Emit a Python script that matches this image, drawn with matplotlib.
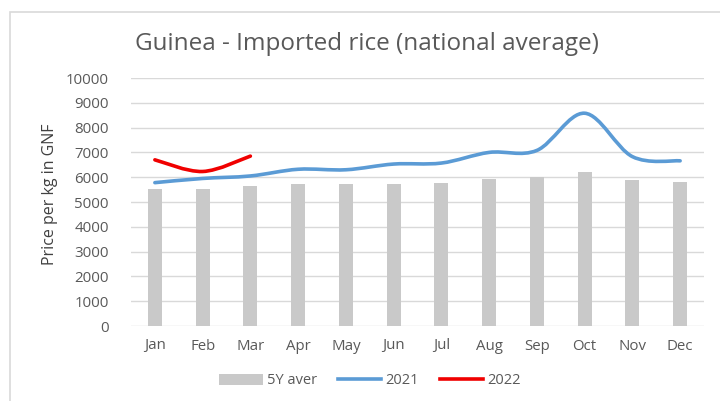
import numpy as np
import matplotlib
matplotlib.use("Agg")
import matplotlib.pyplot as plt
from matplotlib.path import Path
from matplotlib.patches import PathPatch, Rectangle, Patch
from matplotlib.lines import Line2D

months = ["Jan", "Feb", "Mar", "Apr", "May", "Jun", "Jul", "Aug", "Sep", "Oct", "Nov", "Dec"]
avg_5y = [5525, 5525, 5660, 5730, 5730, 5730, 5755, 5915, 6000, 6210, 5900, 5795]
y2021 = [5780, 5950, 6050, 6320, 6300, 6530, 6570, 7000, 7080, 8580, 6830, 6660]
y2022 = [6700, 6230, 6850]

plt.rcParams['font.family'] = ['Open Sans', 'DejaVu Sans']
txt = '#595959'


def smooth_path(xs, ys):
    # bezier through the points, like excel "smoothed line"
    p = np.column_stack([xs, ys]).astype(float)
    n = len(p)
    verts = [p[0]]
    codes = [Path.MOVETO]
    for i in range(n - 1):
        p0 = p[i - 1] if i > 0 else p[i]
        p3 = p[i + 2] if i + 2 < n else p[i + 1]
        c1 = p[i] + (p[i + 1] - p0) / 6
        c2 = p[i + 1] - (p3 - p[i]) / 6
        verts += [c1, c2, p[i + 1]]
        codes += [Path.CURVE4] * 3
    return Path(verts, codes)


fig = plt.figure(figsize=(7.2, 4.01), dpi=100)
ax = fig.add_axes([131 / 720, 1 - 326 / 401, 573 / 720, 248 / 401])

x = np.arange(len(months))
ax.bar(x, avg_5y, width=0.29, color='#c9c9c9', zorder=2)

ax.add_patch(PathPatch(smooth_path(x, y2021), fill=False, edgecolor='#5b9bd5',
                       lw=2.6, capstyle='round', zorder=3))
ax.add_patch(PathPatch(smooth_path(x[:len(y2022)], y2022), fill=False, edgecolor='#f00000',
                       lw=2.6, capstyle='round', zorder=4))

ax.set_xlim(-0.5, 11.5)
ax.set_ylim(0, 10000)
ax.set_yticks(range(0, 10001, 1000))
ax.set_xticks(x)
ax.set_xticklabels(months)
ax.grid(axis='y', color='#d9d9d9', lw=1, zorder=0)
for s in ax.spines.values():
    s.set_visible(False)
ax.tick_params(length=0, colors=txt, labelsize=10.8)
ax.tick_params(axis='x', pad=9)
ax.tick_params(axis='y', pad=16)
ax.set_ylabel('Price per kg in GNF', color='#404040', fontsize=11.5)
ax.yaxis.set_label_coords(-0.128, 0.53)

fig.text(0.510, 1 - 44 / 401, 'Guinea - Imported rice (national average)', ha='center', va='center',
         fontsize=17.5, color='#595959')

# outer chart border
fig.patches.append(Rectangle((10 / 720, -0.1), 1.0, 1 - 12 / 401 + 0.1, transform=fig.transFigure,
                             fill=False, edgecolor='#d9d9d9', lw=1.2))

handles = [Patch(facecolor='#c9c9c9', edgecolor='none'),
           Line2D([], [], color='#5b9bd5', lw=2.6),
           Line2D([], [], color='#f00000', lw=2.6)]
fig.legend(handles, ['5Y aver', '2021', '2022'], loc='center', bbox_to_anchor=(0.514, 1 - 381 / 401),
           ncol=3, frameon=False, fontsize=10.5, labelcolor=txt, handlelength=3.0,
           handletextpad=0.3, columnspacing=1.4)

fig.savefig('out.png', dpi=100)
